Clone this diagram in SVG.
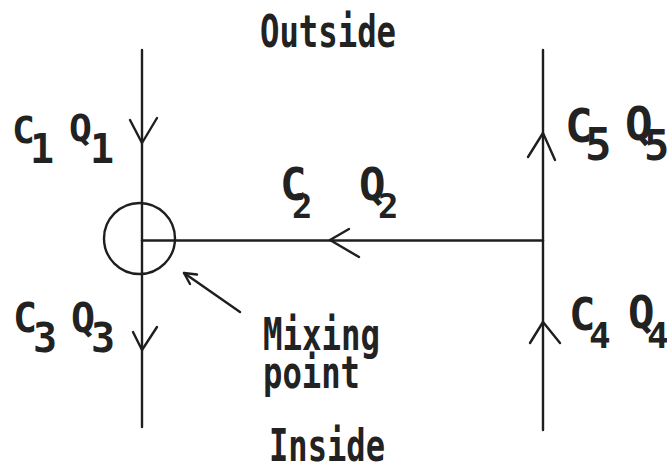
<svg xmlns="http://www.w3.org/2000/svg" width="667" height="464" viewBox="0 0 667 464">
<style>
.ln{stroke:#1e1e1e;stroke-width:2.4;fill:none;stroke-linecap:round;stroke-linejoin:round}
.t{font-family:"DejaVu Sans Mono","Liberation Mono",monospace;font-weight:bold;fill:#222}
</style>
<rect width="667" height="464" fill="#ffffff"/>
<g id="connectors">
<line class="ln" x1="142" y1="50" x2="142" y2="427"/>
<line class="ln" x1="543" y1="50" x2="543" y2="430"/>
<line class="ln" x1="142" y1="240.5" x2="543" y2="240.5"/>
<polyline class="ln" points="130,120 142,143 157,118"/>
<polyline class="ln" points="133,332 142,350 157,327"/>
<polyline class="ln" points="349,229 330,240 359,257"/>
<polyline class="ln" points="528,157 543,133 555,160"/>
<polyline class="ln" points="530,343 543,322 560,343"/>
<line class="ln" x1="240" y1="312" x2="184" y2="273"/>
<polyline class="ln" points="197,274.5 184,273 190,284"/>
</g>
<g id="outside"><text class="t" x="260" y="47" font-size="44" textLength="136" lengthAdjust="spacingAndGlyphs">Outside</text></g>
<g id="inside"><text class="t" x="269" y="461" font-size="44" textLength="116" lengthAdjust="spacingAndGlyphs">Inside</text></g>
<g id="mixing-point">
<circle class="ln" cx="139.5" cy="238.5" r="35.5"/>
<text class="t" font-size="45"><tspan x="263" y="350" textLength="117" lengthAdjust="spacingAndGlyphs">Mixing</tspan><tspan x="263" y="388" textLength="97" lengthAdjust="spacingAndGlyphs">point</tspan></text>
</g>
<g id="flow1"><text class="t" lengthAdjust="spacingAndGlyphs"><tspan x="12" y="143" font-size="38" textLength="19">C</tspan><tspan x="30" y="163" font-size="40" textLength="20">1</tspan><tspan x="69" y="141" font-size="38" textLength="20">Q</tspan><tspan x="90" y="163" font-size="40" textLength="20">1</tspan></text></g>
<g id="flow3"><text class="t" lengthAdjust="spacingAndGlyphs"><tspan x="13" y="332" font-size="40" textLength="19">C</tspan><tspan x="33" y="352" font-size="40" textLength="21">3</tspan><tspan x="71" y="332" font-size="40" textLength="20">Q</tspan><tspan x="91" y="352" font-size="40" textLength="21">3</tspan></text></g>
<g id="flow2"><text class="t" lengthAdjust="spacingAndGlyphs"><tspan x="280" y="200" font-size="44" textLength="20">C</tspan><tspan x="292" y="218" font-size="34" textLength="18">2</tspan><tspan x="359" y="200" font-size="44" textLength="20">Q</tspan><tspan x="378" y="218" font-size="34" textLength="18">2</tspan></text></g>
<g id="flow5"><text class="t" lengthAdjust="spacingAndGlyphs"><tspan x="565" y="142" font-size="46" textLength="22">C</tspan><tspan x="585" y="160" font-size="44" textLength="22">5</tspan><tspan x="625" y="140" font-size="46" textLength="22">Q</tspan><tspan x="644" y="160" font-size="42" textLength="21">5</tspan></text></g>
<g id="flow4"><text class="t" lengthAdjust="spacingAndGlyphs"><tspan x="569" y="330" font-size="44" textLength="20">C</tspan><tspan x="589" y="348" font-size="36" textLength="19">4</tspan><tspan x="628" y="328" font-size="44" textLength="20">Q</tspan><tspan x="647" y="348" font-size="36" textLength="19">4</tspan></text></g>
</svg>
